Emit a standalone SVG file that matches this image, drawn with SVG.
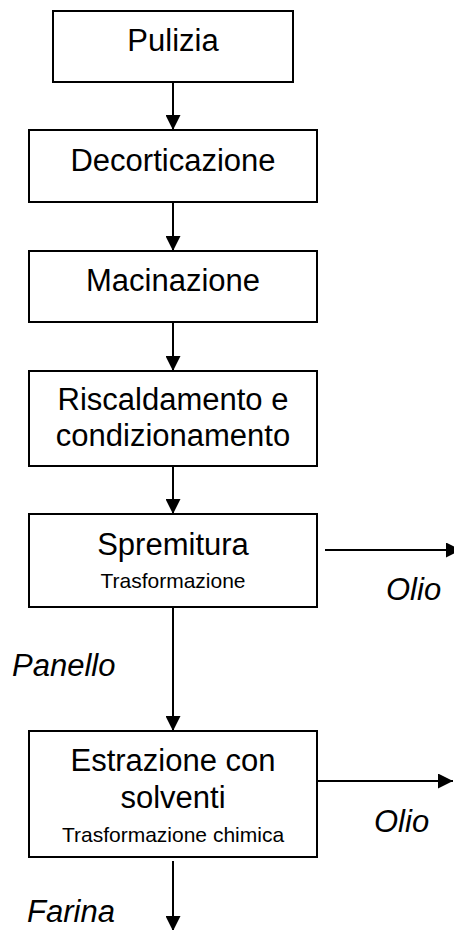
<svg xmlns="http://www.w3.org/2000/svg" width="454" height="930" viewBox="0 0 454 930">
<style>
.box{fill:#fff;stroke:#000;stroke-width:2}
.t{font-family:"Liberation Sans",Arial,sans-serif;font-size:31px;fill:#000;text-anchor:middle}
.s{font-family:"Liberation Sans",Arial,sans-serif;font-size:21px;fill:#000;text-anchor:middle}
.i{font-family:"Liberation Sans",Arial,sans-serif;font-size:31px;font-style:italic;fill:#000}
.c{stroke:#000;stroke-width:2;fill:none;marker-end:url(#ah)}
</style>
<defs>
<marker id="ah" markerUnits="userSpaceOnUse" markerWidth="15" markerHeight="15" refX="15" refY="7.5" orient="auto">
<path d="M0,0 L15,7.5 L0,15 z" fill="#000"/>
</marker>
</defs>
<g id="connectors">
<line class="c" x1="173" y1="82" x2="173" y2="130"/>
<line class="c" x1="173" y1="202" x2="173" y2="251"/>
<line class="c" x1="173" y1="322" x2="173" y2="371"/>
<line class="c" x1="173" y1="466" x2="173" y2="514"/>
<line class="c" x1="325" y1="550" x2="461" y2="550"/>
<line class="c" x1="173" y1="607" x2="173" y2="731"/>
<line class="c" x1="317" y1="781" x2="453" y2="781"/>
<line class="c" x1="173" y1="861" x2="173" y2="931"/>
</g>
<g id="pulizia">
<rect class="box" x="53" y="11" width="240" height="71"/>
<text class="t" x="173" y="51">Pulizia</text>
</g>
<g id="decorticazione">
<rect class="box" x="29" y="130" width="288" height="72"/>
<text class="t" x="173" y="171">Decorticazione</text>
</g>
<g id="macinazione">
<rect class="box" x="29" y="251" width="288" height="71"/>
<text class="t" x="173" y="291">Macinazione</text>
</g>
<g id="riscaldamento">
<rect class="box" x="29" y="371" width="288" height="95"/>
<text class="t" x="173" y="410">Riscaldamento e</text>
<text class="t" x="173" y="446">condizionamento</text>
</g>
<g id="spremitura">
<rect class="box" x="29" y="514" width="288" height="93"/>
<text class="t" x="173" y="555">Spremitura</text>
<text class="s" x="173" y="588">Trasformazione</text>
</g>
<g id="estrazione">
<rect class="box" x="29" y="731" width="288" height="126"/>
<text class="t" x="173" y="771">Estrazione con</text>
<text class="t" x="173" y="808">solventi</text>
<text class="s" x="173" y="842">Trasformazione chimica</text>
</g>
<g id="labels">
<text class="i" x="386" y="600">Olio</text>
<text class="i" x="12" y="676">Panello</text>
<text class="i" x="374" y="832">Olio</text>
<text class="i" x="27" y="922">Farina</text>
</g>
</svg>
